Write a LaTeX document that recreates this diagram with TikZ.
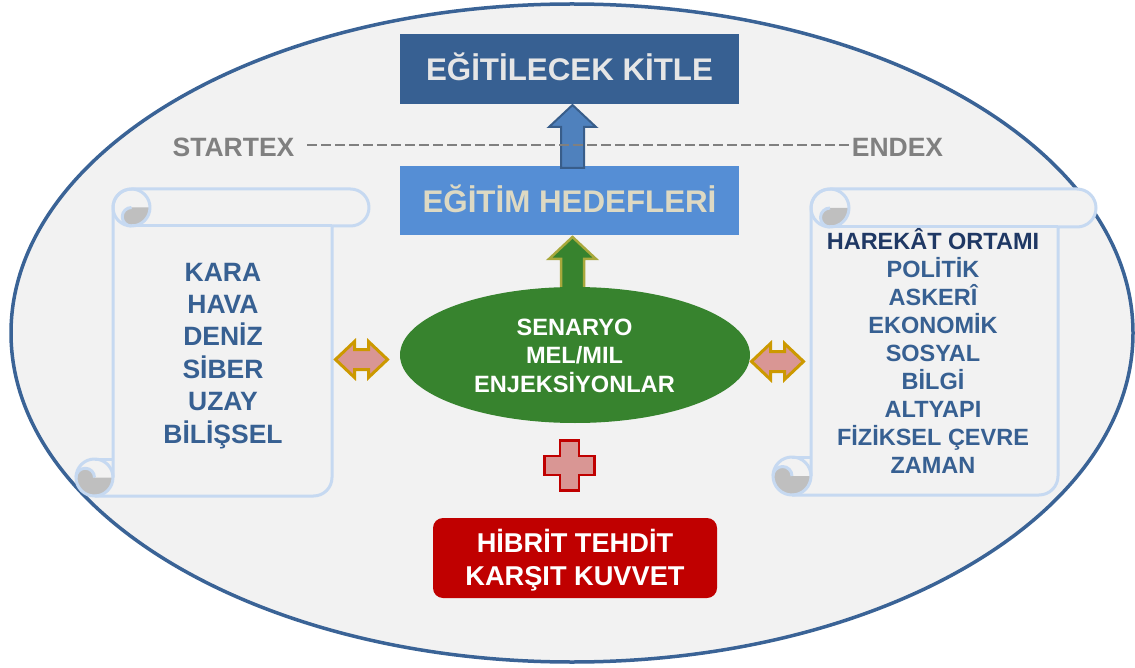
\documentclass[tikz,border=0pt]{standalone}
\usepackage{fontspec}
\setmainfont{Liberation Sans}
\usetikzlibrary{shapes.geometric}

\definecolor{field}{HTML}{F2F2F2}
\definecolor{rim}{HTML}{3A6396}
\definecolor{navy}{HTML}{376092}
\definecolor{skyblue}{HTML}{558ED5}
\definecolor{sand}{HTML}{DDD9C3}
\definecolor{lightgrey}{HTML}{E6E6E6}
\definecolor{arrowblue}{HTML}{4F81BD}
\definecolor{arrowrim}{HTML}{385D8A}
\definecolor{leaf}{HTML}{37832E}
\definecolor{olive}{HTML}{A8A83C}
\definecolor{rose}{HTML}{D99694}
\definecolor{gold}{HTML}{CC9900}
\definecolor{crimson}{HTML}{C00000}
\definecolor{paperedge}{HTML}{C6D9F1}
\definecolor{curl}{HTML}{BFBFBF}
\definecolor{ink}{HTML}{1F3864}
\definecolor{dashgrey}{HTML}{808080}

\newcommand\setfs[2]{\fontsize{#1}{#2}\selectfont\bfseries}

% vertical scroll: left, right, top, bottom, roll diameter
\newcommand\drawscroll[5]{%
  \pgfmathsetmacro\sL{#1}\pgfmathsetmacro\sR{#2}%
  \pgfmathsetmacro\sT{#3}\pgfmathsetmacro\sB{#4}%
  \pgfmathsetmacro\sc{#5}\pgfmathsetmacro\sh{#5/2}\pgfmathsetmacro\sq{#5/4}%
  \pgfmathsetmacro\sa{#1+#5}\pgfmathsetmacro\sb{#2-#5}%
  % paper
  \path[fill=field] ({\sL+\sh},{\sB}) -- ({\sb-\sh},{\sB})
     arc[start angle=90,end angle=0,radius=\sh] -- ({\sb},{\sT+\sc}) -- ({\sR-\sh},{\sT+\sc})
     arc[start angle=90,end angle=-90,radius=\sh] -- ({\sa+\sh},{\sT})
     arc[start angle=-90,end angle=-180,radius=\sh] -- ({\sa},{\sB-\sh})
     arc[start angle=0,end angle=90,radius=\sh] -- cycle;
  \fill[field] ({\sL+\sh},{\sB-\sh}) circle[radius=\sh];
  % shaded curls
  \fill[curl] ({\sa+\sc},{\sT+\sh}) arc[start angle=0,end angle=90,radius=\sh]
     arc[start angle=90,end angle=270,radius=\sq] -- cycle;
  \fill[curl] ({\sa},{\sB-\sh}) arc[start angle=0,end angle=180,radius=\sh]
     arc[start angle=180,end angle=360,radius=\sq] -- cycle;
  % outlines
  \draw[paperline] ({\sL+\sh},{\sB}) -- ({\sb-\sh},{\sB})
     arc[start angle=90,end angle=0,radius=\sh] -- ({\sb},{\sT+\sc}) -- ({\sR-\sh},{\sT+\sc})
     arc[start angle=90,end angle=-90,radius=\sh] -- ({\sa+\sh},{\sT})
     arc[start angle=-90,end angle=-180,radius=\sh] -- ({\sa},{\sB-\sh});
  \draw[paperline] ({\sa+\sh},{\sT+\sh}) circle[radius=\sh];
  \draw[paperline] ({\sa+\sh},{\sT+\sc}) -- ({\sb},{\sT+\sc});
  \draw[paperline] ({\sa+\sh},{\sT+\sc}) arc[start angle=90,end angle=270,radius=\sq];
  \draw[paperline] ({\sL+\sh},{\sB-\sh}) circle[radius=\sh];
  \draw[paperline] ({\sL+\sh},{\sB-\sc}) -- ({\sa},{\sB-\sc});
  \draw[paperline] ({\sL},{\sB-\sh}) arc[start angle=180,end angle=360,radius=\sq];
}

\begin{document}
\begin{tikzpicture}[x=1pt,y=-1pt,
  txt/.style={inner sep=0pt, align=center, anchor=base},
  paperline/.style={draw=paperedge, line width=3pt, line join=round},
  blockup/.style={line width=2pt, line join=miter},
  dblarrow/.style={fill=rose, draw=gold, line width=3pt, line join=miter},
  plate/.style={inner sep=0pt, draw=none}]
\useasboundingbox (0,0) rectangle (1135,668);
\fill[white] (0,0) rectangle (1135,668);

% exercise field
\draw[rim, line width=3.5pt, fill=field] (572,333) ellipse[x radius=561, y radius=329];

% scrolls
\drawscroll{76}{369}{189}{496}{37}
\drawscroll{773}{1096}{189}{495}{38}

% top boxes
\node[plate, fill=navy, minimum width=339pt, minimum height=70pt] (kitle) at (569.5,69) {};
\node[txt, text=lightgrey, font=\setfs{31.3}{36}] (kitleT) at (569.5,81) {EĞİTİLECEK KİTLE};
\node[plate, fill=skyblue, minimum width=339pt, minimum height=69pt] (hedef) at (569.5,200.5) {};
\node[txt, text=sand, font=\setfs{31.3}{36}] (hedefT) at (569.5,213) {EĞİTİM HEDEFLERİ};

% up arrow between the boxes
\draw[blockup, fill=arrowblue, draw=arrowrim] (572.5,105) -- (596,127) -- (584,127) -- (584,168)
  -- (561,168) -- (561,127) -- (549,127) -- cycle;

% exercise time line
\node[txt, text=dashgrey, font=\setfs{26.5}{30}] (startT) at (233.5,157) {STARTEX};
\node[txt, text=dashgrey, font=\setfs{26.5}{30}] (endT) at (897.5,157) {ENDEX};
\coordinate (dashL) at (307,145);
\coordinate (dashR) at (851,145);
\draw[dashgrey, line width=2pt, dash pattern=on 10pt off 4pt] (dashL) -- (dashR);

% scenario
\draw[blockup, line width=2.5pt, fill=leaf, draw=olive] (572.5,237) -- (596,259) -- (584,259) -- (584,292)
  -- (561,292) -- (561,259) -- (549,259) -- cycle;
\node[ellipse, inner sep=0pt, fill=leaf, minimum width=350pt, minimum height=136pt] (senaryo) at (575,355) {};
\node[txt, text=white, font=\setfs{23.6}{28.5}] (senaryoT) at (574.5,392) {SENARYO\\MEL/MIL\\ENJEKSİYONLAR};

% two-way links
\draw[dblarrow, shift={(361.5,359.5)}] (-26,0) -- (-7,-18) -- (-7,-10) -- (7,-10) -- (7,-18) -- (26,0)
  -- (7,18) -- (7,10) -- (-7,10) -- (-7,18) -- cycle;
\draw[dblarrow, shift={(777.5,361.5)}] (-26,0) -- (-7,-18) -- (-7,-10) -- (7,-10) -- (7,-18) -- (26,0)
  -- (7,18) -- (7,10) -- (-7,10) -- (-7,18) -- cycle;

% scroll contents
\node[txt, text=navy, font=\setfs{26.5}{32.4}] (domains) at (223,443)
  {KARA\\HAVA\\DENİZ\\SİBER\\UZAY\\BİLİŞSEL};
\node[txt, text=navy, font=\setfs{23.5}{27.9}] (ortam) at (933,473)
  {{\color{ink}HAREKÂT ORTAMI}\\POLİTİK\\ASKERÎ\\EKONOMİK\\SOSYAL\\BİLGİ\\ALTYAPI\\FİZİKSEL ÇEVRE\\ZAMAN};

% plus sign
\draw[fill=rose, draw=crimson, line width=2.5pt, shift={(569.5,465.5)}]
  (-9.5,-25) -- (9.5,-25) -- (9.5,-9.5) -- (25,-9.5) -- (25,9.5) -- (9.5,9.5) -- (9.5,25)
  -- (-9.5,25) -- (-9.5,9.5) -- (-25,9.5) -- (-25,-9.5) -- (-9.5,-9.5) -- cycle;

% opposing force
\node[plate, fill=crimson, rounded corners=10pt, minimum width=284pt, minimum height=80pt] (tehdit) at (575,558) {};
\node[txt, text=white, font=\setfs{27.2}{33}] (tehditT) at (575,585) {HİBRİT TEHDİT\\KARŞIT KUVVET};
\end{tikzpicture}
\end{document}
